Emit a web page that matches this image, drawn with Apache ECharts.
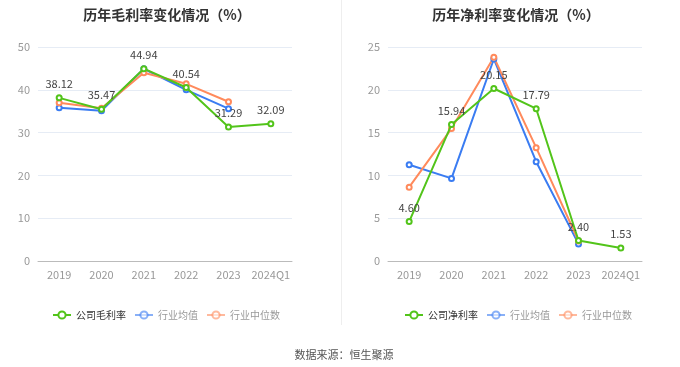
<!DOCTYPE html>
<html><head><meta charset="utf-8">
<script src="https://cdn.jsdelivr.net/npm/echarts@6/dist/echarts.min.js"></script>
<style>html,body{margin:0;padding:0;background:#fff}#c{width:680px;height:367px}</style>
</head><body><div id="c"></div>
<script>
const categories = ['2019','2020','2021','2022','2023','2024Q1'];
const grossCompany = [38.12, 35.47, 44.94, 40.54, 31.29, 32.09];
const grossIndustryAvg = [35.8, 35.1, 44.9, 40.0, 35.6, null];
const grossIndustryMedian = [37.0, 35.7, 44.0, 41.4, 37.2, null];
const netCompany = [4.60, 15.94, 20.15, 17.79, 2.40, 1.53];
const netIndustryAvg = [11.25, 9.65, 23.6, 11.6, 2.0, null];
const netIndustryMedian = [8.63, 15.47, 23.8, 13.24, 2.34, null];
const leftTitle = '历年毛利率变化情况（%）';
const rightTitle = '历年净利率变化情况（%）';
const leftNames = ['公司毛利率','行业均值','行业中位数'];
const rightNames = ['公司净利率','行业均值','行业中位数'];
const source = '数据来源：恒生聚源';

const GREEN = '#52c41a', BLUE = '#3a7cf2', ORANGE = '#ff8a5c';
const font = 'Microsoft YaHei, "Noto Sans CJK SC", sans-serif';

function lineSeries(name, data, color, idx, withLabel) {
  return {
    type: 'line', name, data, xAxisIndex: idx, yAxisIndex: idx,
    symbol: 'emptyCircle', symbolSize: 5,
    lineStyle: { width: 2, color }, itemStyle: { color },
    label: withLabel ? { show: true, position: 'top', color: '#444', fontSize: 11, fontFamily: font,
      formatter: p => p.value.toFixed(2) } : { show: false },
    z: withLabel ? 3 : 2
  };
}
function legendData(names) {
  return [
    { name: names[0], textStyle: { color: '#333' } },
    { name: names[1], textStyle: { color: '#999' }, itemStyle: { opacity: 0.6 }, lineStyle: { opacity: 0.6 } },
    { name: names[2], textStyle: { color: '#999' }, itemStyle: { opacity: 0.6 }, lineStyle: { opacity: 0.6 } }
  ];
}
const xAxisBase = {
  type: 'category', data: categories, boundaryGap: true,
  axisLine: { lineStyle: { color: '#bbb' } }, axisTick: { show: false },
  axisLabel: { color: '#999', fontSize: 11, fontFamily: font, margin: 8, interval: 0 }
};
const yAxisBase = {
  type: 'value', min: 0, axisLine: { show: false }, axisTick: { show: false },
  axisLabel: { color: '#999', fontSize: 11, fontFamily: font },
  splitLine: { lineStyle: { color: '#e6ecf5' } }
};
const chart = echarts.init(document.getElementById('c'), null, { renderer: 'canvas' });
chart.setOption({
  animation: false,
  color: [GREEN, BLUE, ORANGE],
  title: [
    { text: leftTitle, left: 162, top: 3, textAlign: 'center', textStyle: { fontSize: 14, fontWeight: 'bold', color: '#333', fontFamily: font } },
    { text: rightTitle, left: 511, top: 3, textAlign: 'center', textStyle: { fontSize: 14, fontWeight: 'bold', color: '#333', fontFamily: font } },
    { text: source, left: 339, top: 344, textAlign: 'center', textStyle: { fontSize: 11, fontWeight: 'normal', color: '#555', fontFamily: font } }
  ],
  graphic: [{ type: 'line', shape: { x1: 341.5, y1: 0, x2: 341.5, y2: 325 }, style: { stroke: '#eeeeee', lineWidth: 1 } }],
  legend: [
    { left: 47, top: 305, itemWidth: 18, itemHeight: 9, itemGap: 8, textStyle: { fontSize: 10, fontFamily: font }, data: legendData(leftNames), selectedMode: false },
    { left: 399, top: 305, itemWidth: 18, itemHeight: 9, itemGap: 8, textStyle: { fontSize: 10, fontFamily: font }, data: legendData(rightNames), selectedMode: false }
  ],
  grid: [
    { left: 38, top: 47, width: 254, height: 214 },
    { left: 388, top: 47, width: 254, height: 214 }
  ],
  xAxis: [ Object.assign({ gridIndex: 0 }, xAxisBase), Object.assign({ gridIndex: 1 }, xAxisBase) ],
  yAxis: [
    Object.assign({ gridIndex: 0, max: 50, interval: 10 }, yAxisBase),
    Object.assign({ gridIndex: 1, max: 25, interval: 5 }, yAxisBase)
  ],
  series: [
    lineSeries(leftNames[1], grossIndustryAvg, BLUE, 0, false),
    lineSeries(leftNames[2], grossIndustryMedian, ORANGE, 0, false),
    lineSeries(leftNames[0], grossCompany, GREEN, 0, true),
    lineSeries(rightNames[1], netIndustryAvg, BLUE, 1, false),
    lineSeries(rightNames[2], netIndustryMedian, ORANGE, 1, false),
    lineSeries(rightNames[0], netCompany, GREEN, 1, true)
  ]
});
</script></body></html>
